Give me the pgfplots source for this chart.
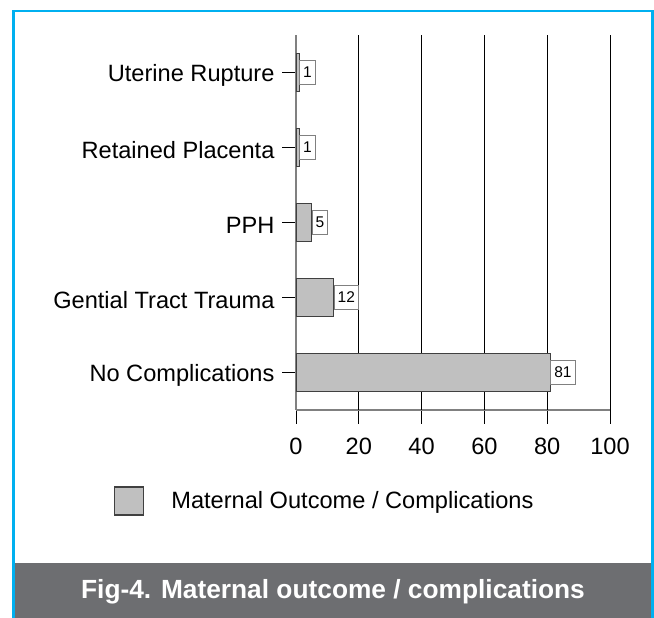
\documentclass[border=0pt]{standalone}
\usepackage{pgfplots}
\pgfplotsset{compat=1.18}
\usepackage{fontspec}
\setmainfont{Liberation Sans}
\definecolor{frameblue}{RGB}{0,176,240}
\definecolor{capgray}{RGB}{109,110,113}
\definecolor{barfill}{RGB}{192,192,192}
\definecolor{bardraw}{RGB}{64,64,64}
\definecolor{axgray}{RGB}{128,128,128}
\begin{document}
\begin{tikzpicture}
\path[use as bounding box] (0,0) rectangle (654bp,618bp);
\fill[white] (0,0) rectangle (654bp,618bp);
\fill[capgray] (15bp,0) rectangle (651bp,55bp);
\draw[frameblue, line width=2.5bp] (13.5bp,0) -- (13.5bp,607bp) -- (652.5bp,607bp) -- (652.5bp,0);
\node[white, anchor=base, inner sep=0pt, font=\bfseries\fontsize{26.3bp}{30bp}\selectfont] at (333bp,19.7bp) {Fig-4. Maternal outcome / complications};
\begin{axis}[
  at={(296bp,208bp)}, anchor=south west,
  scale only axis, width=314bp, height=375bp,
  xbar, bar width=37.5bp,
  xmin=0, xmax=100, ymin=-0.5, ymax=4.5,
  axis x line*=bottom, axis y line*=left,
  axis line style={axgray, line width=1.5bp},
  xtick={0,20,...,100},
  ytick={0,1,2,3,4},
  yticklabels={No Complications, Gential Tract Trauma, PPH, Retained Placenta, Uterine Rupture},
  tick align=outside, major tick length=14bp,
  tick style={black, line width=1bp},
  extra x ticks={20,40,...,100}, extra x tick labels={},
  extra x tick style={grid=major, major grid style={black, line width=1bp}, tick style={draw=none}},
  /pgf/number format/assume math mode=true,
  tick label style={font=\fontsize{23.6bp}{28bp}\selectfont},
  yticklabel style={xshift=-4bp, yshift=-2.5bp},
  xticklabel style={yshift=-11bp},
  nodes near coords,
  nodes near coords style={draw=axgray, fill=white, anchor=west, inner xsep=3.5bp, inner ysep=0pt, minimum height=24bp, line width=1bp, font=\fontsize{15.5bp}{18bp}\selectfont, text=black},
  legend style={at={(-0.5796,-0.2427)}, anchor=west, draw=none, fill=none, inner sep=0pt, font=\fontsize{23.6bp}{28bp}\selectfont, column sep=27bp, nodes={inner sep=0pt}},
  legend image code/.code={\draw[#1] (0bp,-14bp) rectangle (29bp,14bp);},
]
\addplot[fill=barfill, draw=bardraw, line width=1.2bp] coordinates {(81,0) (12,1) (5,2) (1,3) (1,4)};
\addlegendentry{Maternal Outcome / Complications}
\end{axis}
\end{tikzpicture}
\end{document}
